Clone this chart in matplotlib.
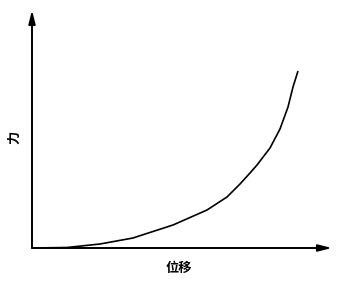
import matplotlib
matplotlib.use("Agg")
import matplotlib.pyplot as plt
import numpy as np

plt.rcParams['font.family'] = ['Noto Sans CJK SC', 'DejaVu Sans']

disp = [0, 35, 68, 101, 108, 141, 175, 195, 208, 218, 225, 238, 248, 256, 261, 266]
force = [0, 0.5, 4, 10, 12.3, 23, 38, 51, 64, 75, 83, 100, 119, 141, 161, 177]
xlabel = "位移"
ylabel = "力"

W, H = 351, 284
fig = plt.figure(figsize=(W/100, H/100), dpi=100)
x0, y0, x1, y1 = 32, 248, 332, 10
ax = fig.add_axes([x0/W, (H-y0)/H, (x1-x0)/W, (y0-y1)/H])
ax.set_xlim(0, 300)
ax.set_ylim(0, 238)
for s in ax.spines.values():
    s.set_visible(False)
ax.set_xticks([]); ax.set_yticks([])

ap = dict(arrowstyle='-|>,head_length=0.8,head_width=0.2', color='black', lw=1.4, shrinkA=0, shrinkB=0)
ax.annotate('', xy=(1, 0), xytext=(0, 0), xycoords='axes fraction', arrowprops=ap)
ax.annotate('', xy=(0, 1), xytext=(0, 0), xycoords='axes fraction', arrowprops=ap)

ax.plot(disp, force, color='black', lw=1.2, solid_capstyle='butt', solid_joinstyle='round')

fig.text(179/W, 1 - 268/H, xlabel, ha='center', va='center', fontsize=9.5, fontweight='bold')
fig.text(14/W, 1 - 137/H, ylabel, ha='center', va='center', fontsize=9.5, fontweight='bold', rotation=90)

fig.savefig('out.png', dpi=100)
